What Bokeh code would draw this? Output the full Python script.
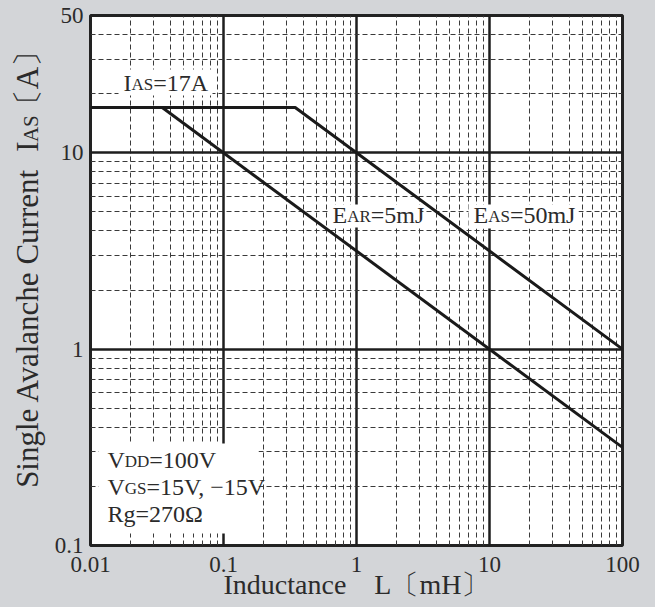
import numpy as np
from bokeh.plotting import figure
from bokeh.layouts import row
from bokeh.models import (FixedTicker, CustomJSTickFormatter, Label, Range1d,
                          BoxAnnotation, GlobalInlineStyleSheet)
from bokeh.embed import file_html
from bokeh.resources import INLINE

# ---------------- data ----------------
# EAS = 50 mJ curve, including the IAS = 17 A plateau
L_eas = [0.01, 0.346, 100.0]
I_eas = [17.0, 17.0, 1.0]
# EAR = 5 mJ curve
L_ear = [0.0346, 100.0]
I_ear = [17.0, 0.316]

x_ticks = [0.01, 0.1, 1, 10, 100]
x_tick_labels = ["0.01", "0.1", "1", "10", "100"]
y_ticks = [0.1, 1, 10, 50]
y_tick_labels = ["0.1", "1", "10", "50"]

BG = "#d3d5d8"
TXT = "#2b2b2b"
LINE = "#1a1a1a"
FONT = "Liberation Serif"
BFIX = 0.33   # baseline correction (fraction of font size) for alphabetic labels

# ---------------- main chart ----------------
p = figure(width=605, height=607, x_axis_type="log", y_axis_type="log",
           x_range=(0.01, 100), y_range=(0.1, 50),
           output_backend="svg", toolbar_location=None,
           min_border_left=40, min_border_right=33,
           min_border_top=15, min_border_bottom=62)
p.background_fill_color = "white"
p.border_fill_color = BG
p.outline_line_color = "#222222"
p.outline_line_width = 3

for ax, tks, labels, standoff in ((p.xaxis[0], x_ticks, x_tick_labels, 11),
                                  (p.yaxis[0], y_ticks, y_tick_labels, 7)):
    ax.ticker = FixedTicker(ticks=tks)
    ax.formatter = CustomJSTickFormatter(args=dict(tv=tks, tl=labels), code="""
        for (let i = 0; i < tv.length; i++) {
            if (Math.abs(tv[i] - tick) <= 1e-6 * tv[i]) return tl[i];
        }
        return "";
    """)
    ax.axis_line_color = None
    ax.major_tick_line_color = None
    ax.minor_tick_line_color = None
    ax.major_tick_out = 0
    ax.major_tick_in = 0
    ax.major_label_standoff = standoff
    ax.major_label_text_font = FONT
    ax.major_label_text_font_size = "23px"
    ax.major_label_text_color = TXT

xa = p.xaxis[0]
xa.axis_label = "Inductance\u3000L\u3014mH\u3015"
xa.axis_label_text_font = FONT
xa.axis_label_text_font_size = "28px"
xa.axis_label_text_font_style = "normal"
xa.axis_label_text_color = TXT
xa.axis_label_standoff = -6

# grid: solid decades, dashed 2..9 sub-divisions
mant = [2, 3, 4, 5, 6, 7, 8, 9]
x_minor = [m * 10.0 ** e for e in range(-2, 2) for m in mant]
y_minor = [m * 10.0 ** e for e in range(-1, 1) for m in mant] + [20, 30, 40]
p.xgrid[0].ticker = FixedTicker(ticks=[0.1, 1, 10], minor_ticks=x_minor)
p.ygrid[0].ticker = FixedTicker(ticks=[1, 10], minor_ticks=y_minor)
for g in (p.xgrid[0], p.ygrid[0]):
    g.grid_line_color = "#1e1e1e"
    g.grid_line_width = 2.5
    g.grid_line_alpha = 1.0
    g.minor_grid_line_color = "#3a3a3a"
    g.minor_grid_line_width = 1
    g.minor_grid_line_dash = "5 3"

# curves
p.line(L_eas, I_eas, line_width=3, line_color=LINE)
p.line(L_ear, I_ear, line_width=3, line_color=LINE)


# reference pixel position -> data coordinate (frame 90..622 x 15..545)
def xd(px):
    return 10 ** ((px - 90) / 133.0 - 2)


def yd(py):
    return 10 ** ((545 - py) / 196.4 - 1)


def box(l, r, t, b):
    p.add_layout(BoxAnnotation(left=xd(l), right=xd(r), top=yd(t), bottom=yd(b),
                               fill_color="white", fill_alpha=1.0, line_color=None))


box(118, 212, 69, 95)     # IAS label
box(328, 420, 204, 227)   # EAR label
box(468, 578, 204, 228)   # EAS label
box(98, 258, 443, 533)    # conditions


def make_label(x, y, text, size, x_offset=0, angle=0.0, align="left", baseline="alphabetic"):
    return Label(x=x, y=y, x_offset=x_offset, text=text, angle=angle,
                 text_font=FONT, text_font_size="%dpx" % size, text_color=TXT,
                 text_align=align, text_baseline=baseline)


def pieces(px, py, parts):
    for text, off, size in parts:
        p.add_layout(make_label(xd(px), yd(py - BFIX * size), text, size, x_offset=off))


pieces(123, 90, [("I", 0, 24), ("AS", 8.0, 17), ("=17A", 29.7, 24)])
pieces(332, 222, [("E", 0, 24), ("AR", 14.7, 17), ("=5mJ", 38.3, 24)])
pieces(473, 222, [("E", 0, 24), ("AS", 14.7, 17), ("=50mJ", 36.4, 24)])
pieces(107, 467, [("V", 0, 24), ("DD", 17.3, 17), ("=100V", 41.8, 24)])
pieces(107, 494, [("V", 0, 24), ("GS", 17.3, 17), ("=15V, \u221215V", 39.0, 24)])
pieces(107, 521, [("Rg=270\u03a9", 0, 24)])

# ---------------- y title in its own strip (pixel coordinates, y downward) ----------------
yfig = figure(width=50, height=607, x_range=Range1d(0, 50), y_range=Range1d(607, 0),
              output_backend="svg", toolbar_location=None,
              x_axis_location=None, y_axis_location=None, min_border=0)
yfig.grid.visible = False
yfig.outline_line_color = None
yfig.background_fill_color = BG
yfig.border_fill_color = BG
# anchors tuned so that the pieces read upward from y=493 to y=58
for text, xc, ystart, size in [("Single Avalanche Current", 27, 541, 31), ("I", 27, 156, 31),
                               ("AS", 30, 145, 21), ("\u3014A\u3015", 27, 120, 31)]:
    yfig.add_layout(make_label(xc, ystart, text, size, angle=np.pi / 2,
                               align="left", baseline="middle"))

layout = row(yfig, p, spacing=0)
layout.stylesheets = [GlobalInlineStyleSheet(css="html, body { background-color: %s; }" % BG)]

open("out.html", "w").write(file_html(layout, INLINE))
